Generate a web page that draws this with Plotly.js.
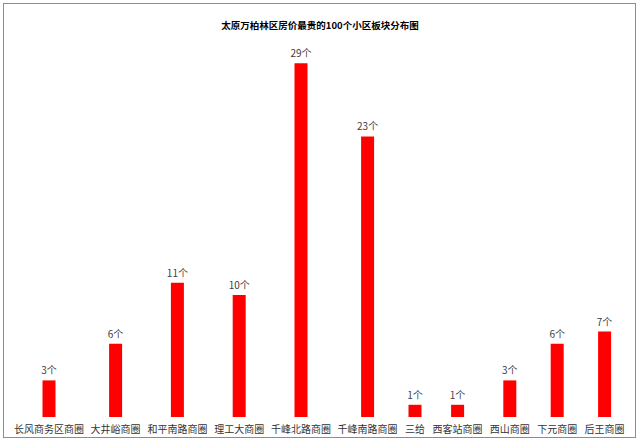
<!DOCTYPE html>
<html>
<head>
<meta charset="utf-8">
<script src="https://cdn.plot.ly/plotly-3.0.1.min.js"></script>
<style>
  html, body { margin: 0; padding: 0; background: #fff; }
  #wrap { position: relative; width: 640px; height: 447px; }
  #chart { width: 640px; height: 447px; }
  #frame { position: absolute; left: 3px; top: 3px; width: 631px; height: 433px;
           border: 1px solid #8c8c8c; pointer-events: none; }
</style>
</head>
<body>
<div id="wrap">
  <div id="chart"></div>
  <div id="frame"></div>
</div>
<script>
// ---- data ----
const categories = ["长风商务区商圈", "大井峪商圈", "和平南路商圈", "理工大商圈", "千峰北路商圈",
                    "千峰南路商圈", "三给", "西客站商圈", "西山商圈", "下元商圈", "后王商圈"];
const counts = [3, 6, 11, 10, 29, 23, 1, 1, 3, 6, 7];
const valueLabels = counts.map(v => v + "个");
const chartTitle = "太原万柏林区房价最贵的100个小区板块分布图";

// ---- layout: category centres spaced by label widths (like the original) ----
const charW = 9.6, gap = 9;
const centers = [];
let pos = 0;
categories.forEach((c, i) => {
  if (i > 0) pos += (categories[i - 1].length + c.length) / 2 * charW + gap;
  centers.push(pos);
});
const firstOffset = 49;           // pixel position of first centre
const W = 640, H = 447, mt = 40, mb = 30;
const pxPerUnit = 12.2;
const yTop = (H - mt - mb) / pxPerUnit;

const font = "'Noto Sans CJK SC', 'Microsoft YaHei', sans-serif";

Plotly.newPlot("chart", [{
  type: "bar",
  x: centers,
  y: counts,
  width: 13,
  marker: { color: "#ff0000", line: { width: 0 } },
  text: valueLabels,
  textposition: "outside",
  constraintext: "none",
  cliponaxis: false,
  textfont: { family: font, size: 10, color: "#404040" },
  hoverinfo: "skip"
}], {
  width: W, height: H,
  margin: { l: 0, r: 0, t: mt, b: mb, pad: 0 },
  paper_bgcolor: "#ffffff",
  plot_bgcolor: "#ffffff",
  showlegend: false,
  title: {
    text: "<b>" + chartTitle + "</b>",
    font: { family: font, size: 9.5, color: "#000000" },
    x: 0.5, xanchor: "center", y: 0.942, yanchor: "middle"
  },
  xaxis: {
    type: "linear",
    range: [-firstOffset, W - firstOffset],
    tickmode: "array",
    tickvals: centers,
    ticktext: categories,
    tickangle: 0,
    showgrid: false, zeroline: false, showline: false,
    ticks: "", ticklen: 0,
    ticklabelstandoff: 5,
    tickfont: { family: font, size: 10, color: "#333333" },
    fixedrange: true
  },
  yaxis: {
    range: [0, yTop],
    visible: false,
    showgrid: false, zeroline: false,
    fixedrange: true
  }
}, { displayModeBar: false, staticPlot: true });
</script>
</body>
</html>
